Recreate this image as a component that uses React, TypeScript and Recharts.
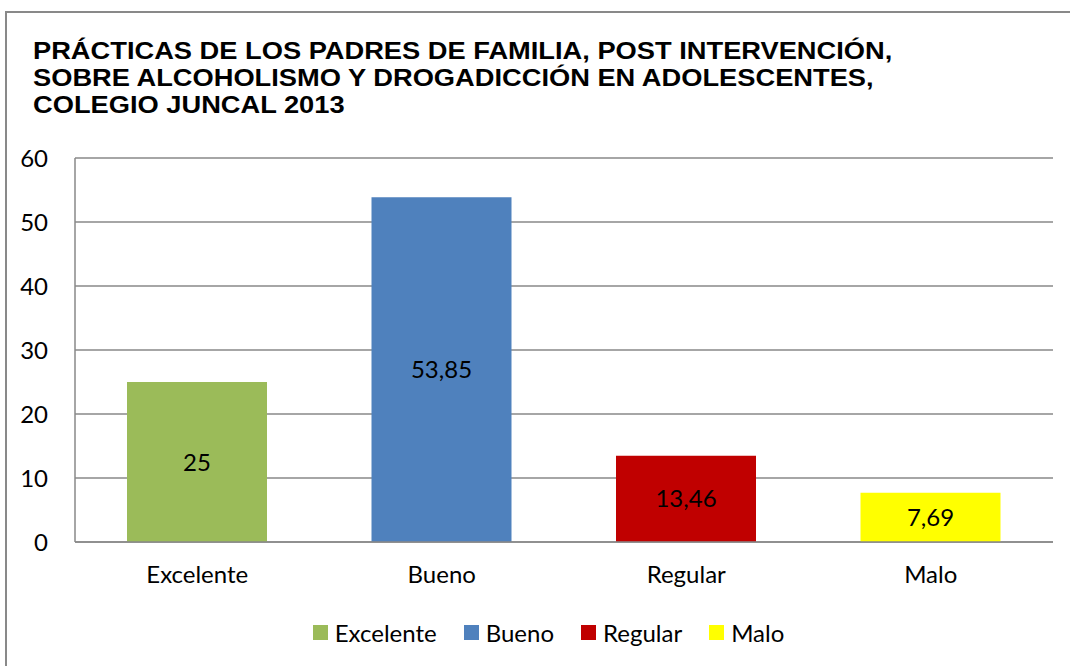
import React from 'react';
import { BarChart, Bar, XAxis, YAxis, CartesianGrid, Legend, LabelList, Cell } from 'recharts';

const categories = ['Excelente', 'Bueno', 'Regular', 'Malo'];
const values = [25, 53.85, 13.46, 7.69];
const colors = ['#9BBB59', '#4F81BD', '#C00000', '#FFFF00'];
const yTicks = [0, 10, 20, 30, 40, 50, 60];
const titleLines = [
  'PRÁCTICAS DE LOS PADRES DE FAMILIA, POST INTERVENCIÓN,',
  'SOBRE ALCOHOLISMO Y DROGADICCIÓN EN ADOLESCENTES,',
  'COLEGIO JUNCAL 2013',
];

const data = categories.map((name, i) => ({ name, value: values[i] }));

const font = 'Lato, "Noto Sans", sans-serif';
const gray = '#898989';

const LegendContent = () => (
  <div
    style={{
      display: 'flex',
      justifyContent: 'center',
      alignItems: 'center',
      paddingLeft: 27,
      height: 40,
      fontFamily: font,
      fontSize: 24,
      color: '#000',
    }}
  >
    {categories.map((c, i) => (
      <div key={c} style={{ display: 'flex', alignItems: 'center', marginRight: i < categories.length - 1 ? 27 : 0 }}>
        <span style={{ width: 15, height: 15, background: colors[i], marginRight: 7, display: 'inline-block' }} />
        <span>{c}</span>
      </div>
    ))}
  </div>
);

export default function App() {
  return (
    <div style={{ position: 'fixed', left: 0, top: 0, width: 1070, height: 666, overflow: 'hidden', background: '#fff' }}>
      <div
        style={{
          position: 'absolute',
          left: 5,
          top: 11,
          width: 1100,
          height: 700,
          border: `2px solid ${gray}`,
        }}
      />
      <div
        style={{
          position: 'absolute',
          left: 33,
          top: 38,
          fontFamily: '"Liberation Sans", Arial, sans-serif',
          fontWeight: 'bold',
          fontSize: 23.5,
          lineHeight: '27px',
          color: '#000',
          whiteSpace: 'nowrap',
          transform: 'scaleX(1.16)',
          transformOrigin: 'left top',
        }}
      >
        {titleLines.map((l) => (
          <div key={l}>{l}</div>
        ))}
      </div>
      <div style={{ position: 'absolute', left: 0, top: 0 }}>
        <BarChart width={1070} height={666} data={data} margin={{ top: 158, right: 17, left: 0, bottom: 14 }}>
          <CartesianGrid horizontal vertical={false} stroke={gray} strokeWidth={1.5} />
          <XAxis
            dataKey="name"
            tickLine={false}
            tickSize={0}
            tickMargin={24}
            height={70}
            axisLine={{ stroke: gray, strokeWidth: 1.5 }}
            tick={{ fill: '#000', fontSize: 24, fontFamily: font }}
          />
          <YAxis
            domain={[0, 60]}
            ticks={yTicks}
            width={75}
            tickLine={false}
            tickSize={0}
            tickMargin={27}
            axisLine={{ stroke: gray, strokeWidth: 1.5 }}
            tick={{ fill: '#000', fontSize: 24, fontFamily: font }}
          />
          <Legend verticalAlign="bottom" height={40} wrapperStyle={{ left: 0, width: 1070 }} content={<LegendContent />} />
          <Bar dataKey="value" barSize={140} isAnimationActive={false}>
            {data.map((d, i) => (
              <Cell key={d.name} fill={colors[i]} />
            ))}
            <LabelList
              dataKey="value"
              position="center"
              formatter={(v: any) => String(v).replace('.', ',')}
              style={{ fill: '#000', fontSize: 24, fontFamily: font }}
            />
          </Bar>
        </BarChart>
      </div>
    </div>
  );
}
